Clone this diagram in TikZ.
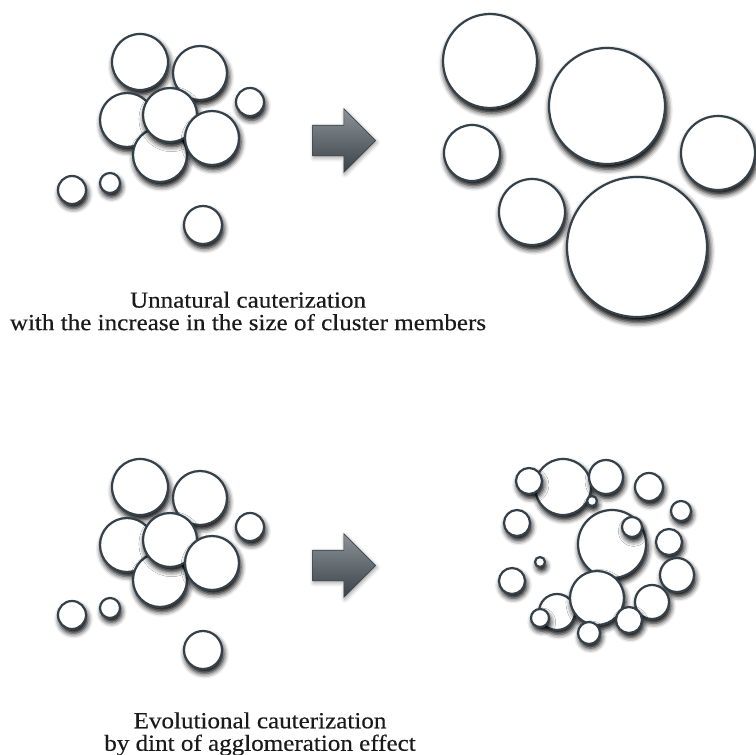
\documentclass[tikz,border=0pt]{standalone}
\usepackage{fontspec}
\setmainfont[FakeStretch=1.09, FakeBold=0.4]{Liberation Serif}
\usepackage{xcolor}
\usepackage{tikz}
\usetikzlibrary{shapes.arrows, shadows.blur}
\definecolor{bubbleedge}{HTML}{34414B}
\definecolor{arrowlight}{HTML}{8C9398}
\definecolor{arrowmid}{HTML}{6A7278}
\definecolor{arrowdark}{HTML}{3A4248}
\definecolor{captiontext}{HTML}{1A1A1A}

\begin{document}
\begin{tikzpicture}[
    x=1pt, y=-1pt,
    bubble/.style={
        circle,
        draw=bubbleedge,
        fill=white,
        line width=2.2pt,
        inner sep=0pt,
        minimum size=2*#1pt,
        blur shadow={shadow xshift=1.5pt, shadow yshift=-4pt,
            shadow scale=1.02, shadow blur radius=5pt, shadow opacity=100}
    },
    bigarrow/.style={
        single arrow,
        draw=arrowdark,
        line width=0.6pt,
        top color=arrowlight,
        middle color=arrowmid,
        bottom color=arrowdark,
        inner xsep=0pt,
        inner ysep=15pt,
        minimum height=63pt,
        single arrow head extend=16.5pt,
        blur shadow={shadow xshift=1pt, shadow yshift=-2pt,
            shadow blur radius=4pt, shadow opacity=40}
    },
    caption/.style={
        align=center,
        text=captiontext,
        font=\fontsize{23}{22.5}\selectfont
    }
]
\useasboundingbox (0,0) rectangle (756,755);

% Unnatural case - starting cluster
\node[bubble=28] (ua) at (140,62) {};
\node[bubble=27] (ub) at (200,73) {};
\node[bubble=27] (ud) at (127,120) {};
\node[bubble=27] (ug) at (160,155) {};
\node[bubble=27] (ue) at (170,115) {};
\node[bubble=27] (uf) at (212,138) {};
\node[bubble=14] (uc) at (250,102) {};
\node[bubble=14] (uh) at (72,190) {};
\node[bubble=10] (ui) at (110,183) {};
\node[bubble=19] (uj) at (203,225) {};

\node[bigarrow] (uarrow) at (336.5,140.5) {};

% Unnatural case - grown members
\node[bubble=47] (ra) at (490,61) {};
\node[bubble=58] (rb) at (607,106) {};
\node[bubble=28] (rc) at (472,153) {};
\node[bubble=37] (rd) at (718,153) {};
\node[bubble=33] (re) at (532,212) {};
\node[bubble=70] (rf) at (637,247) {};

\node[caption] (ucap) at (248,311) {Unnatural cauterization\\with the increase in the size of cluster members};

% Evolutional case - starting cluster
\node[bubble=28] (ea) at (140,487) {};
\node[bubble=27] (eb) at (200,498) {};
\node[bubble=27] (ed) at (127,545) {};
\node[bubble=27] (eg) at (160,580) {};
\node[bubble=27] (ee) at (170,540) {};
\node[bubble=27] (ef) at (212,563) {};
\node[bubble=14] (ec) at (250,527) {};
\node[bubble=14] (eh) at (72,615) {};
\node[bubble=10] (ei) at (110,608) {};
\node[bubble=19] (ej) at (203,650) {};

\node[bigarrow] (earrow) at (336.5,565.5) {};

% Evolutional case - agglomerated members
\node[bubble=28] (b1) at (563,487) {};
\node[bubble=13] (b2) at (529,481) {};
\node[bubble=17] (b3) at (606,477) {};
\node[bubble=5] (b4) at (592,501) {};
\node[bubble=14] (b5) at (649,487) {};
\node[bubble=10] (b6) at (681,511) {};
\node[bubble=13] (b7) at (517,523) {};
\node[bubble=34] (b8) at (612,544) {};
\node[bubble=10] (b9) at (632,527) {};
\node[bubble=13] (b10) at (669,542) {};
\node[bubble=5] (b11) at (540,562) {};
\node[bubble=13] (b12) at (512,581) {};
\node[bubble=17] (b13) at (677,575) {};
\node[bubble=18] (b15) at (557,612) {};
\node[bubble=9] (b16) at (540,618) {};
\node[bubble=27] (b14) at (597,598) {};
\node[bubble=17] (b17) at (652,602) {};
\node[bubble=13] (b18) at (629,620) {};
\node[bubble=11] (b19) at (589,633) {};

\node[caption] (ecap) at (260,734) {Evolutional cauterization\\by dint of agglomeration effect};

\end{tikzpicture}
\end{document}
